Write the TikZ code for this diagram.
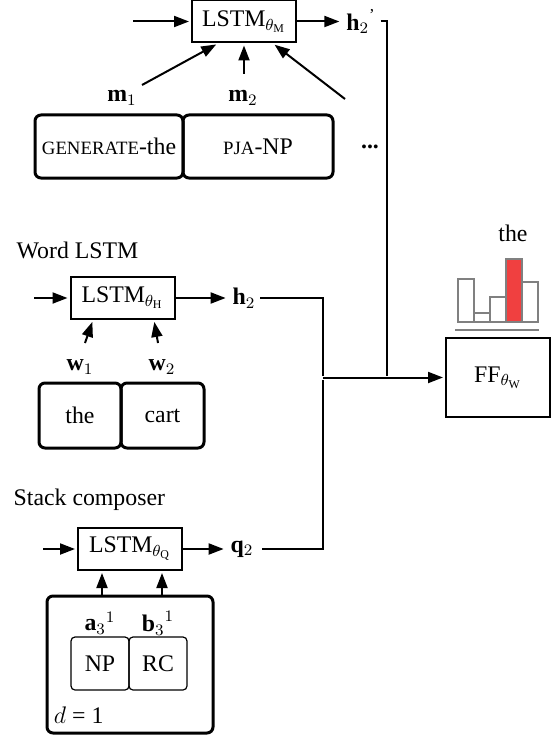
\documentclass[tikz,border=0pt]{standalone}
\usepackage{amsmath}
\usepackage{fontspec}
\setmainfont{Liberation Serif}
\usepackage{xcolor}
\usetikzlibrary{arrows.meta}
\definecolor{barred}{RGB}{240,64,64}
\newcommand{\fsc}[1]{{\fontsize{9.4}{10}\selectfont #1}}

\begin{document}
\begin{tikzpicture}[->,>={Triangle[length=7.5pt,width=5.5pt]},shorten >=1pt,line width=1pt,
        x=0.5pt,y=-0.5pt,font=\fontsize{11.9}{14}\selectfont,
        lstm/.style={draw, line width=1pt, minimum width=52pt, minimum height=21pt, inner sep=0pt},
        tok/.style={draw, line width=1.5pt, rounded corners=3pt, minimum height=31.5pt, inner sep=0pt},
        cell/.style={draw, line width=0.6pt, rounded corners=2pt, minimum width=29pt, minimum height=26.5pt, inner sep=0pt},
        lbl/.style={inner sep=2pt},
        bar/.style={draw=gray, line width=0.6pt},
    ]
    \useasboundingbox (0,0) rectangle (558,738);

    % memory LSTM
    \node [lstm](1) at (244,21.5) {LSTM$_{\theta_{\mathrm{M}}}$};
    \node [lbl](2) at (361,21.5) {${\mathbf{h}_2}^{\textnormal{'}}$};
    \node [lbl](3) at (122,98) {$\mathbf{m}_1$};
    \node [lbl](4) at (243,98) {$\mathbf{m}_2$};
    \node [tok, minimum width=74pt](5) at (109,146.5) {\fsc{GENERATE}-the};
    \node [tok, minimum width=75pt](6) at (258,146.5) {\fsc{PJA}-NP};
    \node (7) at (370,147) {\textbf{...}};

    % word LSTM
    \node [anchor=west](8) at (9,250) {Word LSTM};
    \node [lstm](9) at (122.5,298) {LSTM$_{\theta_{\mathrm{H}}}$};
    \node [lbl](10) at (244,298) {$\mathbf{h}_2$};
    \node [lbl](11) at (80,367) {$\mathbf{w}_1$};
    \node [lbl](12) at (162,367) {$\mathbf{w}_2$};
    \node [tok, minimum width=41pt, minimum height=32.5pt](13) at (80,415.5) {the};
    \node [tok, minimum width=41.5pt, minimum height=32.5pt](14) at (162.5,415.5) {cart};

    % stack composer
    \node [anchor=west](15) at (6,500) {Stack composer};
    \node [lstm](16) at (130,549) {LSTM$_{\theta_{\mathrm{Q}}}$};
    \node [lbl](17) at (242,549) {$\mathbf{q}_2$};
    \node [tok, minimum width=83pt, minimum height=68.5pt](18) at (130,664.5) {};
    \node [lbl](19) at (100,623) {${\mathbf{a}_3}^{1}$};
    \node [lbl](20) at (158,623) {${\mathbf{b}_3}^{1}$};
    \node [cell](21) at (100,663.5) {NP};
    \node [cell](22) at (158,663.5) {RC};
    \node [anchor=west, inner sep=0pt](23) at (53,715) {$d$ = 1};

    % output layer
    \node [lstm, minimum height=39.5pt](24) at (498,377.5) {FF$_{\theta_{\mathrm{W}}}$};
    \node (25) at (513,233) {the};
    \foreach \h/\c [count=\i] in {43/white,9/white,25/white,63/barred,40/white}
        \draw [-, bar, fill=\c] (442+16*\i,322) rectangle ++(16,-\h);
    \draw [-, gray, line width=0.8pt] (455,330) -- (541,330);

    \coordinate (a) at (133,21.5);
    \coordinate (b) at (34,298);
    \coordinate (c) at (43,549);
    \coordinate (m1) at (142,85);
    \coordinate (m2) at (244,74);
    \coordinate (m3) at (345,99);
    \coordinate (w1) at (85,343);
    \coordinate (w2) at (158,343);
    \coordinate (j) at (323,377.5);
    \coordinate (k) at (387,377.5);

    \path
        (a) edge (1)
        (1) edge (2)
        (m1) edge ([xshift=-13pt]1.south)
        (m2) edge (1.south)
        (m3) edge ([xshift=14.5pt]1.south)

        (b) edge (9)
        (9) edge (10)
        (w1) edge ([xshift=-14.75pt]9.south)
        (w2) edge ([xshift=15.75pt]9.south)

        (c) edge (16)
        (16) edge (17)
        ([xshift=-14pt]18.north) edge ([xshift=-14pt]16.south)
        ([xshift=16pt]18.north) edge ([xshift=16pt]16.south)

        (j) edge (24)
    ;
    \draw [-] (2.east) -| (k);
    \draw [-] (10.east) -| (j);
    \draw [-] ([xshift=2pt]17.east) -| (j);
\end{tikzpicture}
\end{document}
